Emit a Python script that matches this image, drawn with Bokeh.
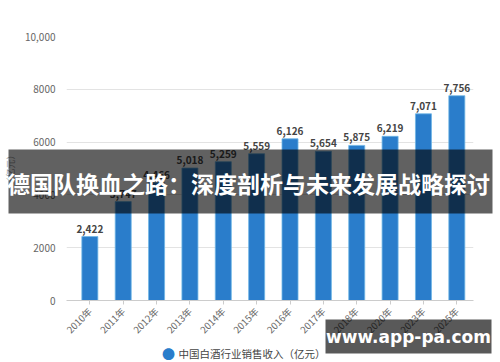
from bokeh.plotting import figure
from bokeh.models import Range1d, FixedTicker, Label, BoxAnnotation, GridBox, Column
from bokeh.embed import file_html
from bokeh.resources import INLINE
from math import pi

years = ["2010年", "2011年", "2012年", "2013年", "2014年", "2015年", "2016年",
         "2017年", "2018年", "2020年", "2023年", "2025年"]
revenue = [2422, 3747, 4466, 5018, 5259, 5559, 6126, 5654, 5875, 6219, 7071, 7756]
y_ticks = [0, 2000, 4000, 6000, 8000, 10000]
y_tick_labels = ["0", "2000", "4000", "6000", "8000", "10,000"]
series_name = "中国白酒行业销售收入（亿元）"
title_text = "德国队换血之路：深度剖析与未来发展战略探讨"
watermark = "www.app-pa.com"

FONT = "Noto Sans CJK SC"
W, H = 500, 362
L, R, T, B = 62, 27, 36, 62
X0, X1 = -0.70, 11.5
Y0, Y1 = 0, 10000

p = figure(width=W, height=H, output_backend="svg", toolbar_location=None,
           x_range=Range1d(X0, X1), y_range=Range1d(Y0, Y1),
           min_border_left=L, min_border_right=R, min_border_top=T, min_border_bottom=B)
p.outline_line_color = None
p.background_fill_color = "white"
p.border_fill_color = "white"

xs = list(range(len(years)))
p.vbar(x=xs, top=revenue, width=0.48, fill_color="#2a7dcb", line_color="#6fb6e6", line_width=0.8)

for x, v in zip(xs, revenue):
    p.add_layout(Label(x=x, y=v, text=f"{v:,}", text_align="center", text_baseline="bottom",
                       y_offset=4, text_font=FONT, text_font_size="10px", text_font_style="bold",
                       text_color="#444444"))

p.xaxis.ticker = FixedTicker(ticks=xs)
p.xaxis.major_label_overrides = {i: y for i, y in enumerate(years)}
p.xaxis.major_label_orientation = pi / 4
p.xaxis.major_label_text_font = FONT
p.xaxis.major_label_text_font_size = "9.5px"
p.xaxis.major_label_text_color = "#666666"
p.xaxis.axis_line_color = "#cccccc"
p.xaxis.major_tick_line_color = "#cccccc"
p.xaxis.major_tick_in = 0
p.xaxis.major_tick_out = 4
p.xaxis.minor_tick_line_color = None

p.yaxis.ticker = FixedTicker(ticks=y_ticks)
p.yaxis.major_label_overrides = {t: s for t, s in zip(y_ticks, y_tick_labels)}
p.yaxis.major_label_text_font = FONT
p.yaxis.major_label_text_font_size = "10px"
p.yaxis.major_label_text_color = "#666666"
p.yaxis.axis_line_color = None
p.yaxis.major_tick_line_color = None
p.yaxis.minor_tick_line_color = None
p.yaxis.axis_label = "（亿元）"
p.yaxis.axis_label_text_font = FONT
p.yaxis.axis_label_text_font_size = "9px"
p.yaxis.axis_label_text_font_style = "normal"
p.yaxis.axis_label_text_color = "#999999"

p.xgrid.grid_line_color = None
p.ygrid.ticker = FixedTicker(ticks=y_ticks)
p.ygrid.grid_line_color = "#e3e3e3"

# transparent overlay figure covering the whole canvas (pixel coordinates, y downwards)
ov = figure(width=W, height=H, output_backend="svg", toolbar_location=None,
            x_range=Range1d(0, W), y_range=Range1d(H, 0),
            x_axis_location=None, y_axis_location=None,
            min_border=0, min_border_left=0, min_border_right=0,
            min_border_top=0, min_border_bottom=0)
ov.grid.visible = False
ov.outline_line_color = None
ov.background_fill_color = None
ov.border_fill_color = None

ov.add_layout(Label(x=168, y=353, text="●", text_align="center", text_baseline="middle",
                    text_font=FONT, text_font_size="13px", text_color="#2a7dcb"))
ov.add_layout(Label(x=178, y=353, text=series_name, text_align="left", text_baseline="middle",
                    text_font=FONT, text_font_size="10.5px", text_color="#444444"))

ov.add_layout(BoxAnnotation(left=8, right=492, top=149, bottom=213,
                            fill_color="black", fill_alpha=0.62, line_color=None))
ov.add_layout(Label(x=248, y=182, text=title_text, text_align="center", text_baseline="middle",
                    text_font=FONT, text_font_size="23px", text_font_style="bold", text_color="white"))

ov.add_layout(BoxAnnotation(left=325, right=491, top=319, bottom=353,
                            fill_color="black", fill_alpha=0.65, line_color=None))
ov.add_layout(Label(x=408, y=336, text=watermark, text_align="center", text_baseline="middle",
                    text_font="DejaVu Sans", text_font_size="17px", text_font_style="bold",
                    text_color="white"))

layout = GridBox(children=[(Column(p), 0, 0), (Column(ov), 0, 0)])
open("out.html", "w").write(file_html(layout, INLINE))
